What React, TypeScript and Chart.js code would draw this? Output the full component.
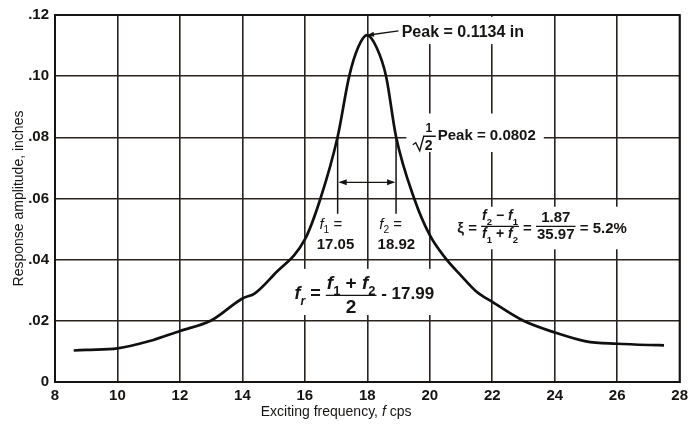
import React, { useEffect, useRef } from 'react';
import { Chart, registerables } from 'chart.js';
Chart.register(...registerables);

// Data
const frequency = [8.6, 9, 10, 11, 12, 13, 14, 14.4, 15, 16, 16.5, 17.05, 17.42, 17.7, 17.99, 18.3, 18.6, 18.92, 19.5, 20, 20.5, 21, 21.5, 22, 23, 24, 25, 26, 27, 27.5];
const amplitude = [0.0103, 0.0105, 0.011, 0.0133, 0.0167, 0.0201, 0.0273, 0.029, 0.035, 0.0466, 0.06, 0.0802, 0.1, 0.1093, 0.1134, 0.1093, 0.1, 0.0802, 0.06, 0.048, 0.0405, 0.0348, 0.0295, 0.0262, 0.02, 0.0162, 0.0133, 0.0125, 0.0121, 0.012];
const xTickLabels = ['8', '10', '12', '14', '16', '18', '20', '22', '24', '26', '28'];
const yTickLabels = ['0', '.02', '.04', '.06', '.08', '.10', '.12'];

const FONT = '"Liberation Sans", Arial, Helvetica, sans-serif';
const INK = '#161412';
const GRID = '#2a221c';

function fnt(size: number, bold: boolean, italic?: boolean) {
  return `${italic ? 'italic ' : ''}${bold ? 'bold ' : ''}${size}px ${FONT}`;
}
type Seg = { t: string; it?: boolean; sub?: boolean };
function richWidth(ctx: CanvasRenderingContext2D, segs: Seg[], size: number, bold: boolean) {
  let w = 0;
  for (const s of segs) {
    ctx.font = fnt(s.sub ? size * 0.68 : size, bold, s.it);
    w += ctx.measureText(s.t).width;
  }
  return w;
}
function drawRich(ctx: CanvasRenderingContext2D, segs: Seg[], x: number, y: number, size: number, bold: boolean) {
  ctx.textAlign = 'left';
  ctx.textBaseline = 'alphabetic';
  for (const s of segs) {
    ctx.font = fnt(s.sub ? size * 0.68 : size, bold, s.it);
    ctx.fillText(s.t, x, y + (s.sub ? size * 0.3 : 0));
    x += ctx.measureText(s.t).width;
  }
  return x;
}
function drawFrac(ctx: CanvasRenderingContext2D, num: Seg[], den: Seg[], x: number, yBar: number, size: number, bold: boolean, numGap: number, denGap: number) {
  const wn = richWidth(ctx, num, size, bold);
  const wd = richWidth(ctx, den, size, bold);
  const w = Math.max(wn, wd) + 2;
  drawRich(ctx, num, x + (w - wn) / 2, yBar - numGap, size, bold);
  drawRich(ctx, den, x + (w - wd) / 2, yBar + denGap, size, bold);
  ctx.beginPath();
  ctx.moveTo(x, yBar);
  ctx.lineTo(x + w, yBar);
  ctx.lineWidth = 1.3;
  ctx.strokeStyle = INK;
  ctx.stroke();
  return x + w;
}
function arrowHead(ctx: CanvasRenderingContext2D, x: number, y: number, dx: number, dy: number, len: number, half: number) {
  const L = Math.hypot(dx, dy);
  const ux = dx / L, uy = dy / L;
  ctx.beginPath();
  ctx.moveTo(x, y);
  ctx.lineTo(x - ux * len - uy * half, y - uy * len + ux * half);
  ctx.lineTo(x - ux * len + uy * half, y - uy * len - ux * half);
  ctx.closePath();
  ctx.fill();
}

const annotations = {
  id: 'annotations',
  beforeDatasetsDraw(chart: any) {
    const { ctx, chartArea } = chart;
    const xs = chart.scales.x, ys = chart.scales.y;
    const box = (x1: number, x2: number, y1: number, y2: number) => {
      const a = xs.getPixelForValue(x1), b = xs.getPixelForValue(x2);
      const c = ys.getPixelForValue(y1), d = ys.getPixelForValue(y2);
      ctx.fillRect(a, c, b - a, d - c);
    };
    ctx.save();
    ctx.fillStyle = '#ffffff';
    box(19.05, 23.2, 0.1194, 0.1105);
    box(19.25, 23.65, 0.0878, 0.0752);
    box(20.8, 26.9, 0.0573, 0.0434);
    box(15.6, 20.7, 0.037, 0.0219);
    // frame
    ctx.strokeStyle = INK;
    ctx.lineWidth = 2;
    ctx.strokeRect(chartArea.left, chartArea.top, chartArea.right - chartArea.left, chartArea.bottom - chartArea.top);
    ctx.restore();
  },
  afterDatasetsDraw(chart: any) {
    const { ctx } = chart;
    const xs = chart.scales.x, ys = chart.scales.y;
    const X = (v: number) => xs.getPixelForValue(v);
    const Y = (v: number) => ys.getPixelForValue(v);
    ctx.save();
    ctx.fillStyle = INK;
    ctx.strokeStyle = INK;

    // Peak leader and label
    const px0 = X(17.99), py0 = Y(0.1134);
    const px1 = X(19.0), py1 = Y(0.1148);
    ctx.lineWidth = 1.4;
    ctx.beginPath();
    ctx.moveTo(px0, py0);
    ctx.lineTo(px1, py1);
    ctx.stroke();
    arrowHead(ctx, px0, py0, px0 - px1, py0 - py1, 7, 2.5);
    drawRich(ctx, [{ t: 'Peak = 0.1134 in' }], X(19.1), Y(0.1145) + 5.5, 16, true);

    // 1/sqrt(2) Peak
    const ax = X(19.55), ay = Y(0.0802);
    ctx.lineWidth = 1.4;
    ctx.beginPath();
    ctx.moveTo(ax - 3, ay + 8);
    ctx.lineTo(ax, ay + 6);
    ctx.lineTo(ax + 4, ay + 14);
    ctx.lineTo(ax + 8, ay - 0.5);
    ctx.lineTo(ax + 20, ay - 0.5);
    ctx.stroke();
    drawRich(ctx, [{ t: '2' }], ax + 9, ay + 13.5, 14, true);
    ctx.font = fnt(12, true);
    ctx.textAlign = 'center';
    ctx.fillText('1', ax + 13, ay - 5);
    drawRich(ctx, [{ t: 'Peak = 0.0802' }], ax + 22, ay + 3.5, 15, true);

    // f1, f2 verticals and arrow
    ctx.lineWidth = 1.5;
    for (const f of [17.05, 18.92]) {
      ctx.beginPath();
      ctx.moveTo(X(f), Y(0.0802));
      ctx.lineTo(X(f), Y(0.055));
      ctx.stroke();
    }
    const ayr = Y(0.0653);
    ctx.lineWidth = 1.3;
    ctx.beginPath();
    ctx.moveTo(X(17.05) + 2, ayr);
    ctx.lineTo(X(18.92) - 2, ayr);
    ctx.stroke();
    arrowHead(ctx, X(17.05) + 1, ayr, -1, 0, 8, 3);
    arrowHead(ctx, X(18.92) - 1, ayr, 1, 0, 8, 3);

    // f1 = 17.05 / f2 = 18.92
    const lab = (sub: string, val: string, xc: number, xv: number) => {
      const segs: Seg[] = [{ t: 'f', it: true }, { t: sub, sub: true }, { t: ' =' }];
      const w = richWidth(ctx, segs, 15, false);
      drawRich(ctx, segs, X(xc) - w / 2, Y(0.0518) + 5, 15, false);
      ctx.font = fnt(15, true);
      const wv = ctx.measureText(val).width;
      drawRich(ctx, [{ t: val }], X(xv) - wv / 2, Y(0.045) + 5, 15, true);
    };
    lab('1', '17.05', 16.83, 16.98);
    lab('2', '18.92', 18.75, 18.93);

    // xi formula
    const xi0 = X(20.88), yi = Y(0.0502);
    let cx = drawRich(ctx, [{ t: 'ξ = ' }], xi0, yi + 5, 15, true);
    cx = drawFrac(ctx,
      [{ t: 'f', it: true }, { t: '2', sub: true }, { t: ' − ' }, { t: 'f', it: true }, { t: '1', sub: true }],
      [{ t: 'f', it: true }, { t: '1', sub: true }, { t: ' + ' }, { t: 'f', it: true }, { t: '2', sub: true }],
      cx, yi - 2, 14, true, 6, 12);
    cx = drawRich(ctx, [{ t: ' = ' }], cx, yi + 5, 15, true);
    cx = drawFrac(ctx, [{ t: '1.87' }], [{ t: '35.97' }], cx, yi - 2, 15, true, 4, 13);
    drawRich(ctx, [{ t: ' = 5.2%' }], cx, yi + 5, 15, true);

    // fr formula
    const fr0 = X(15.67), yr = Y(0.029);
    let rx = drawRich(ctx, [{ t: 'f', it: true }, { t: 'r', it: true, sub: true }, { t: ' = ' }], fr0, yr + 6, 18, true);
    rx = drawFrac(ctx,
      [{ t: 'f', it: true }, { t: '1', sub: true }, { t: ' + ' }, { t: 'f', it: true }, { t: '2', sub: true }],
      [{ t: '2' }], rx, yr + 2, 19, true, 6, 18);
    drawRich(ctx, [{ t: ' - 17.99' }], rx, yr + 6, 17, true);
    ctx.restore();
  },
  afterDraw(chart: any) {
    const { ctx, chartArea } = chart;
    const xs = chart.scales.x;
    ctx.save();
    ctx.fillStyle = INK;
    // x title
    const segs: Seg[] = [{ t: 'Exciting frequency, ' }, { t: 'f', it: true }, { t: ' cps' }];
    const w = richWidth(ctx, segs, 14, false);
    drawRich(ctx, segs, xs.getPixelForValue(17) - w / 2, chartArea.bottom + 34, 14, false);
    // y title
    ctx.translate(23, (chartArea.top + chartArea.bottom) / 2);
    ctx.rotate(-Math.PI / 2);
    ctx.font = fnt(14, false);
    ctx.textAlign = 'center';
    ctx.textBaseline = 'alphabetic';
    ctx.fillText('Response amplitude, inches', 0, 0);
    ctx.restore();
  },
};

export default function App() {
  const ref = useRef<HTMLCanvasElement>(null);
  useEffect(() => {
    const chart = new Chart(ref.current!, {
      type: 'line',
      data: {
        datasets: [
          {
            data: frequency.map((f, i) => ({ x: f, y: amplitude[i] })),
            borderColor: '#111010',
            borderWidth: 2.7,
            pointRadius: 0,
            fill: false,
            cubicInterpolationMode: 'monotone',
            tension: 0.4,
          },
        ],
      },
      options: {
        animation: false,
        responsive: true,
        maintainAspectRatio: false,
        layout: { padding: { left: 0, right: 11, top: 9, bottom: 0 } },
        plugins: { legend: { display: false }, tooltip: { enabled: false } },
        scales: {
          x: {
            type: 'linear',
            min: 8,
            max: 28,
            ticks: {
              stepSize: 2,
              color: INK,
              padding: 5,
              maxRotation: 0,
              font: { family: FONT, size: 15, weight: 'bold' },
              callback: (_v: any, i: number) => xTickLabels[i],
            },
            grid: { color: GRID, lineWidth: 1.6, drawTicks: false },
            border: { color: INK, width: 2 },
            afterFit: (s: any) => { s.height = 42; },
          },
          y: {
            min: 0,
            max: 0.12,
            ticks: {
              stepSize: 0.02,
              color: INK,
              padding: 6,
              font: { family: FONT, size: 15, weight: 'bold' },
              callback: (_v: any, i: number) => yTickLabels[i],
            },
            grid: { color: GRID, lineWidth: 1.6, drawTicks: false },
            border: { color: INK, width: 2 },
            afterFit: (s: any) => { s.width = 55; },
          },
        },
      },
      plugins: [annotations],
    } as any);
    return () => chart.destroy();
  }, []);
  return (
    <div style={{ position: 'fixed', left: 0, top: 0, width: 693, height: 424, background: '#fff' }}>
      <canvas ref={ref} style={{ display: 'block' }} />
    </div>
  );
}
